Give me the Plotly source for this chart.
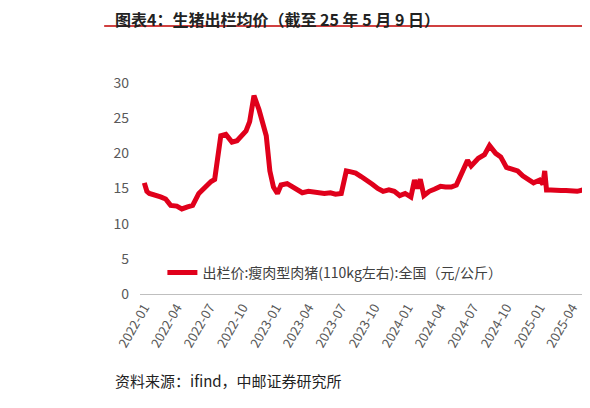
import plotly.graph_objects as go

dates = ["2022-01-01","2022-01-08","2022-01-15","2022-02-01","2022-02-15","2022-03-01","2022-03-15","2022-04-01","2022-04-15","2022-05-01","2022-05-15","2022-06-01","2022-06-15","2022-06-28","2022-07-05","2022-07-15","2022-08-01","2022-08-15","2022-09-01","2022-09-15","2022-10-01","2022-10-10","2022-10-20","2022-11-01","2022-11-15","2022-11-25","2022-12-05","2022-12-15","2022-12-25",
"2023-01-05","2023-01-15","2023-02-01","2023-02-15","2023-03-01","2023-03-15","2023-04-01","2023-04-15","2023-05-01","2023-05-15","2023-06-01","2023-06-15","2023-07-01","2023-07-15","2023-07-25","2023-08-10","2023-08-25","2023-09-10","2023-09-25","2023-10-10","2023-10-25","2023-11-10","2023-11-25","2023-12-10","2023-12-25",
"2024-01-10","2024-01-20","2024-01-28","2024-02-05","2024-02-15","2024-03-01","2024-03-15","2024-04-01","2024-04-15","2024-05-01","2024-05-15","2024-06-01","2024-06-15","2024-06-25","2024-07-05","2024-07-15","2024-08-01","2024-08-15","2024-09-01","2024-09-15","2024-10-01","2024-10-15","2024-11-01","2024-11-15","2024-12-01","2024-12-15",
"2025-01-01","2025-01-10","2025-01-15","2025-01-20","2025-02-01","2025-02-15","2025-03-01","2025-03-15","2025-04-01","2025-04-15","2025-05-01","2025-05-09"]
prices = [15.8,14.6,14.3,14.1,13.8,13.5,12.6,12.5,12.1,12.4,12.6,14.3,15.0,15.8,16.0,16.3,22.5,22.7,21.6,21.8,22.8,23.2,24.5,28.2,26.2,24.0,22.5,17.5,15.2,
14.3,15.5,15.7,15.2,14.8,14.4,14.6,14.5,14.5,14.3,14.4,14.2,14.3,17.5,17.4,17.2,16.7,16.2,15.6,15.0,14.6,14.8,14.6,14.0,14.3,
13.8,16.2,15.0,16.3,14.0,14.6,14.9,15.3,15.2,15.2,15.5,17.5,19.0,18.2,18.8,19.3,19.8,21.1,20.0,19.5,18.0,17.8,17.5,16.8,16.2,15.8,
16.2,15.6,17.5,14.8,14.8,14.7,14.7,14.7,14.7,14.6,14.8,15.1]

tickvals = ["2022-01-01","2022-04-01","2022-07-01","2022-10-01","2023-01-01","2023-04-01","2023-07-01","2023-10-01","2024-01-01","2024-04-01","2024-07-01","2024-10-01","2025-01-01","2025-04-01"]
ticktext = [t[:7] for t in tickvals]

fig = go.Figure(go.Scatter(x=dates, y=prices, mode="lines", line=dict(color="#e0001b", width=5),
    name="出栏价:瘦肉型肉猪(110kg左右):全国（元/公斤）"))
font = "Noto Sans CJK SC"
fig.update_layout(width=590, height=408, margin=dict(l=132, r=10, t=75, b=122),
    plot_bgcolor="white", paper_bgcolor="white", font=dict(family=font, color="#595959", size=14),
    showlegend=True,
    legend=dict(x=0.05, y=0.1, xanchor="left", yanchor="middle", bgcolor="rgba(0,0,0,0)", font=dict(size=14, color="#404040")),
    xaxis=dict(tickvals=tickvals, ticktext=ticktext, tickangle=-60, range=["2021-12-20","2025-05-15"],
        showgrid=False, showline=True, linecolor="#bfbfbf", ticks="", tickfont=dict(size=13)),
    yaxis=dict(range=[0, 30], dtick=5, showgrid=False, zeroline=False, tickfont=dict(size=14), ticklabelstandoff=10),
)
fig.add_annotation(text="<b>图表4：生猪出栏均价（截至 25 年 5 月 9 日）</b>", xref="paper", yref="paper",
    x=-0.06, y=1.37, xanchor="left", showarrow=False, font=dict(size=16, color="#222"))
fig.add_annotation(text="资料来源：ifind，中邮证券研究所", xref="paper", yref="paper",
    x=-0.06, y=-0.47, xanchor="left", showarrow=False, font=dict(size=15, color="#222"))
fig.add_shape(type="line", xref="paper", yref="paper", x0=-0.08, x1=1.02, y0=1.27, y1=1.27, line=dict(color="#c00000", width=1.5))
fig.write_html("out.html")
